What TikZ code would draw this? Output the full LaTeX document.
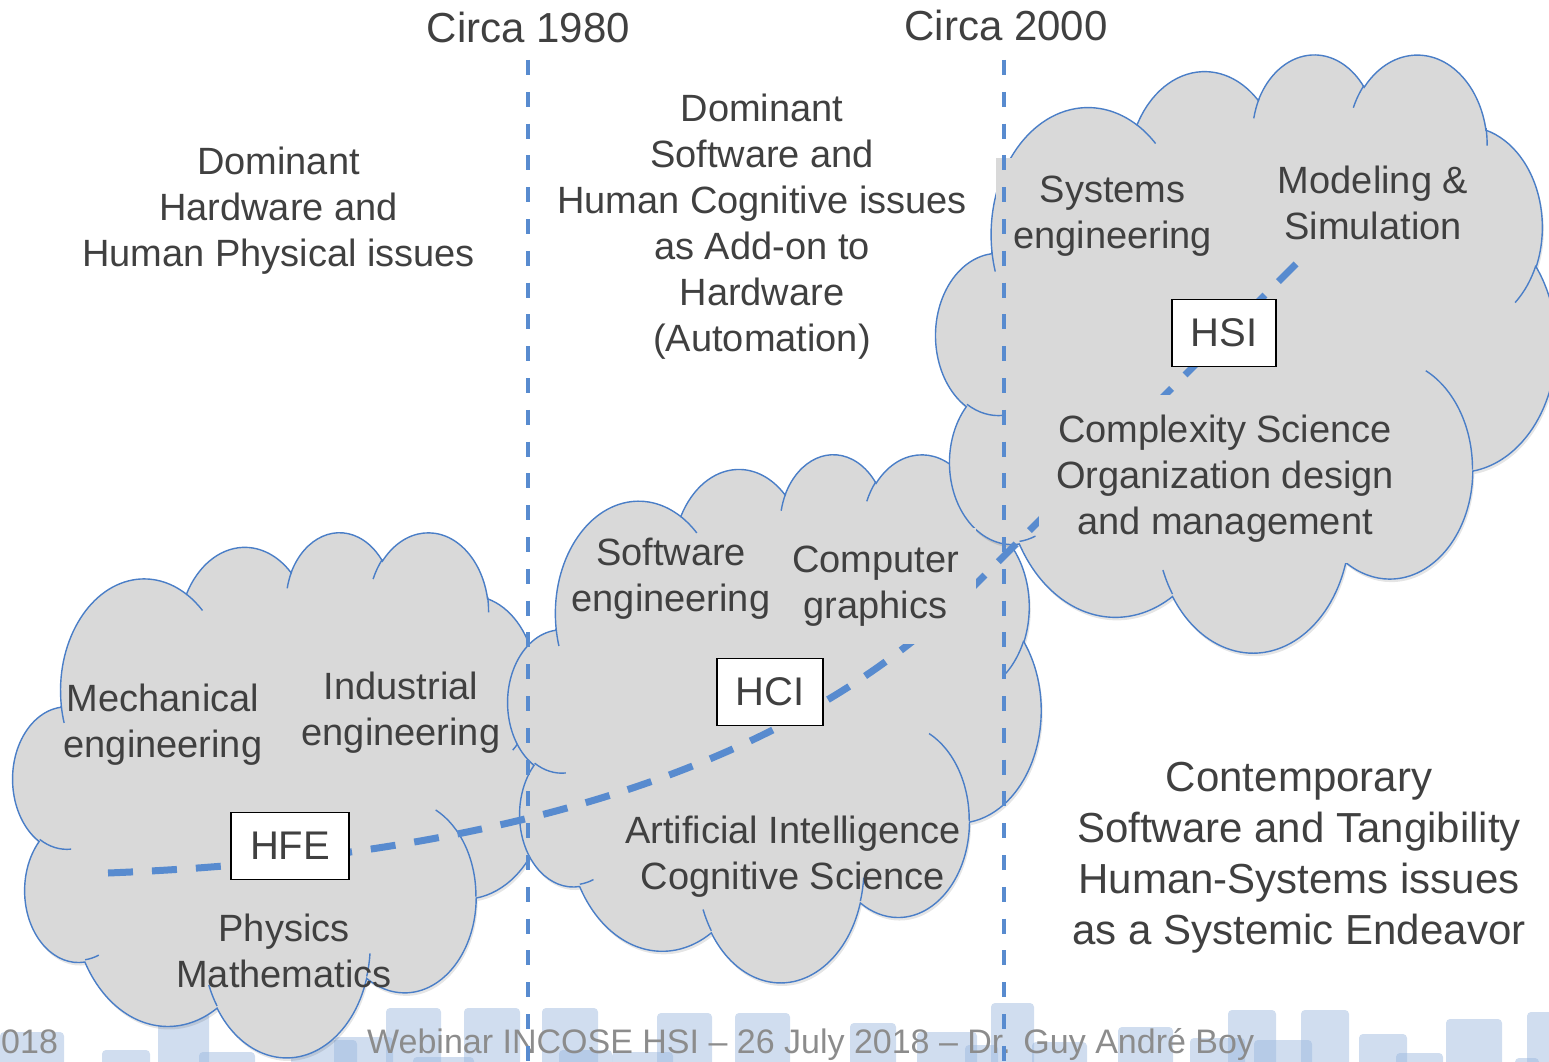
\documentclass[tikz,border=0pt]{standalone}
\usepackage{fontspec}
\setmainfont{Liberation Sans}
\definecolor{cloudgray}{RGB}{217,217,217}
\definecolor{cloudblue}{RGB}{74,126,199}
\definecolor{dashblue}{RGB}{88,139,207}
\definecolor{textgray}{RGB}{64,64,64}
\definecolor{footgray}{RGB}{140,140,140}
\definecolor{footblue}{RGB}{150,180,220}

% arc of the PowerPoint cloud: wR, hR, start (visual) angle, sweep (degrees)
\newcommand\cloudarc[4]{%
  \pgfmathsetmacro\cTS{atan2((#1)*sin(#3),(#2)*cos(#3))}%
  \pgfmathsetmacro\cTE{atan2((#1)*sin((#3)+(#4)),(#2)*cos((#3)+(#4)))}%
  \pgfmathsetmacro\cTD{\cTE-\cTS}%
  \pgfmathsetmacro\cTD{ifthenelse(\cTD-(#4)>180,\cTD-360,ifthenelse(\cTD-(#4)<-180,\cTD+360,\cTD))}%
  \pgfmathsetmacro\cTF{\cTS+\cTD}%
  \pgfpatharcaxes{\cTS}{\cTF}{\pgfpointxy{#1}{0}}{\pgfpointxy{0}{#2}}%
}
\newcommand\cloudoutline{%
  \pgfpathmoveto{\pgfpointxy{39.00}{143.70}}%
  \cloudarc{67.53}{91.90}{-190.4875}{123.7805}%
  \cloudarc{53.33}{72.67}{-144.1024}{89.9452}%
  \cloudarc{43.65}{59.45}{-145.8079}{99.7230}%
  \cloudarc{48.57}{65.95}{-130.9861}{117.2417}%
  \cloudarc{53.33}{72.73}{-78.7089}{109.0269}%
  \cloudarc{67.75}{92.20}{-46.2673}{130.2690}%
  \cloudarc{57.85}{78.67}{0.6250}{114.0333}%
  \cloudarc{67.52}{92.15}{22.4516}{115.1726}%
  \cloudarc{77.20}{105.43}{66.2426}{75.7110}%
  \cloudarc{43.60}{59.18}{-274.9421}{146.7356}%
  \cloudarc{43.45}{59.45}{-246.8285}{152.5189}%
  \pgfpathclose}
\newcommand\cloudinnerarcs{%
  \pgfpathmoveto{\pgfpointxy{46.93}{261.77}}\cloudarc{43.45}{59.45}{86.7420}{26.4295}%
  \pgfpathmoveto{\pgfpointxy{69.28}{348.99}}\cloudarc{43.60}{59.18}{73.6105}{11.4475}%
  \pgfpathmoveto{\pgfpointxy{164.78}{390.90}}\cloudarc{67.52}{92.15}{137.6242}{14.0811}%
  \pgfpathmoveto{\pgfpointxy{288.27}{347.51}}\cloudarc{67.52}{92.15}{6.4533}{15.9984}%
  \pgfpathmoveto{\pgfpointxy{341.29}{229.54}}\cloudarc{57.85}{78.67}{-70.2924}{70.9174}%
  \pgfpathmoveto{\pgfpointxy{417.98}{153.54}}\cloudarc{53.33}{72.73}{30.3180}{27.7515}%
  \pgfpathmoveto{\pgfpointxy{383.24}{54.26}}\cloudarc{48.57}{65.95}{-13.7443}{14.8589}%
  \pgfpathmoveto{\pgfpointxy{290.78}{39.52}}\cloudarc{48.57}{65.95}{-149.1815}{18.1954}%
  \pgfpathmoveto{\pgfpointxy{221.41}{47.20}}\cloudarc{43.65}{59.45}{-163.4943}{17.6864}%
  \pgfpathmoveto{\pgfpointxy{140.00}{51.92}}\cloudarc{67.53}{91.90}{-66.7070}{12.3194}%
  \pgfpathmoveto{\pgfpointxy{41.27}{157.89}}\cloudarc{67.53}{91.90}{157.6544}{11.8582}%
}
\newcommand\drawcloud[4]{%
  \begin{scope}[shift={(#1,#2)},x={(#3pt/432,0pt)},y={(0pt,-#4pt/432)}]
    \begin{pgfscope}\pgftransformshift{\pgfpoint{1.5pt}{-3pt}}\cloudoutline
      \pgfsetfillcolor{black}\pgfsetfillopacity{0.10}\pgfusepath{fill}\end{pgfscope}
    \begin{pgfscope}\cloudoutline\pgfsetfillcolor{cloudgray}\pgfsetstrokecolor{cloudblue}%
      \pgfsetlinewidth{1.4pt}\pgfusepath{fill,stroke}\end{pgfscope}
    \begin{pgfscope}\cloudinnerarcs\pgfsetstrokecolor{cloudblue}%
      \pgfsetlinewidth{1.4pt}\pgfusepath{stroke}\end{pgfscope}
  \end{scope}}

\tikzset{
  lbl/.style={align=center, text=textgray, inner sep=0pt, font=\fontsize{38}{46}\selectfont},
  biglbl/.style={align=center, text=textgray, inner sep=0pt, font=\fontsize{42}{51}\selectfont},
  fbox/.style={lbl, fill=cloudgray, inner xsep=17pt, inner ysep=18pt},
  tagbox/.style={draw=black, line width=1.3pt, fill=white, text=textgray,
    font=\fontsize{40}{48}\selectfont, minimum height=67pt, inner sep=0pt},
  vline/.style={dashblue, line width=4pt, dash pattern=on 15pt off 16.8pt},
  conn/.style={dashblue, line width=7pt, dash pattern=on 25pt off 19pt},
  foot/.style={text=footgray, inner sep=0pt, font=\fontsize{34}{40}\selectfont},
  footrect/.style={fill=footblue, fill opacity=0.45, rounded corners=4pt},
}

\begin{document}
\begin{tikzpicture}[x=1pt,y=-1pt]
\useasboundingbox (0,0) rectangle (1549,1062);

% footer decoration
\foreach \a/\b/\c in {0/1032/64, 102/1050/150, 158/1012/209, 199/1052/255, 291/1040/357,
  334/1037/393, 386/1008/441, 413/1057/474, 464/1008/520, 542/1008/598, 559/1050/612,
  612/1052/673, 657/1013/712, 735/1013/790, 850/1023/896, 917/1032/977, 965/1045/998,
  991/1003/1034, 1032/1042/1087, 1118/1027/1173, 1190/1038/1245, 1228/1010/1276,
  1254/1040/1312, 1301/1010/1349, 1359/1034/1407, 1396/1053/1443, 1446/1019/1502,
  1515/1058/1539, 1527/1012/1560}
  \fill[footrect] (\a,\b) rectangle (\c,1075);

% clouds
\drawcloud{13}{531}{535}{525}
\drawcloud{508}{453}{533}{528}
\drawcloud{936}{53}{620}{598}

% HFE -> HCI -> HSI path
\coordinate (cs) at (108,873);
\coordinate (cm) at (960,600);
\coordinate (ce) at (1320,240);
\draw[conn] (cs) .. controls (558,855) and (810,742.5) .. (cm) -- (ce);

% texts
\node[biglbl] (c80) at (528.5,27) {Circa 1980};
\node[biglbl] (c00) at (1006,25.5) {Circa 2000};
\node[lbl] (domhw) at (278.5,210.5) {Dominant\\Hardware and\\Human Physical issues};
\node[lbl] (domsw) at (762,226.5) {Dominant\\Software and\\Human Cognitive issues\\as Add-on to\\Hardware\\(Automation)};
\node[biglbl] (contemp) at (1299,858) {Contemporary\\Software and Tangibility\\Human-Systems issues\\as a Systemic Endeavor};

\node[lbl] (mech) at (163,725) {Mechanical\\engineering};
\node[lbl] (indus) at (401,713) {Industrial\\engineering};
\node[lbl] (phys) at (284,951) {Physics\\Mathematics};
\node[lbl] (softw) at (671,579) {Software\\engineering};
\node[fbox] (compg) at (875.5,586) {Computer\\graphics};
\node[lbl] (ai) at (793,857) {Artificial Intelligence\\Cognitive Science};
\node[fbox] (syseng) at (1112.5,216.5) {Systems\\engineering};
\node[fbox] (modsim) at (1373,203) {Modeling \&\\Simulation};
\node[fbox, inner ysep=20pt] (complex) at (1225,479) {Complexity Science\\Organization design\\and management};

% footer text
\node[foot, anchor=base west] (f1) at (1,1053) {018};
\node[foot, anchor=base west] (f2) at (367,1053) {Webinar INCOSE HSI – 26 July 2018 – Dr. Guy André Boy};

% era separators
\coordinate (v1t) at (528,60);
\coordinate (v1b) at (528,1070);
\coordinate (v2t) at (1004,60);
\coordinate (v2b) at (1004,1070);
\draw[vline] (v1t) -- (v1b);
\draw[vline] (v2t) -- (v2b);

% tags
\node[tagbox, minimum width=118pt] (hfe) at (290,846) {HFE};
\node[tagbox, minimum width=106pt] (hci) at (770,692) {HCI};
\node[tagbox, minimum width=104pt] (hsi) at (1224,333) {HSI};
\end{tikzpicture}
\end{document}
